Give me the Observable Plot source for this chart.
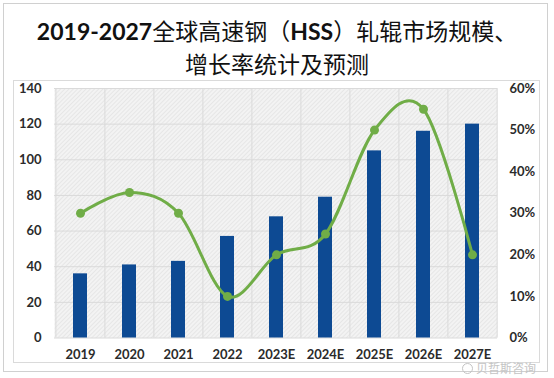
<!DOCTYPE html>
<html><head><meta charset="utf-8">
<script src="https://cdn.jsdelivr.net/npm/d3@7"></script>
<script src="https://cdn.jsdelivr.net/npm/@observablehq/plot@0.6"></script>
<style>
body{margin:0;background:#fff;}
#wrap{position:relative;width:554px;height:378px;overflow:hidden;font-family:Lato,"Noto Sans CJK SC",sans-serif;}
#outer{position:absolute;left:3px;top:3px;width:545px;height:369px;border:1px solid #d0d0d0;box-sizing:border-box;}
#inner{position:absolute;left:13px;top:80px;width:527px;height:283px;border:1px solid #dadada;box-sizing:border-box;}
.t{position:absolute;left:0;width:554px;text-align:center;font-size:23px;line-height:24px;color:#111;font-family:"Noto Sans CJK SC",sans-serif;white-space:nowrap;}
.t b{font-family:Lato,sans-serif;font-weight:bold;}
#chart{position:absolute;left:0;top:80px;}
#wm{position:absolute;left:462px;top:362px;font-size:12px;line-height:11px;color:#c4c4c4;font-family:"Noto Sans CJK SC",sans-serif;white-space:nowrap;}
#wm span{display:inline-block;width:9px;height:9px;border:1.5px solid #c4c4c4;border-radius:50%;vertical-align:-1px;margin-right:3px;}
</style></head>
<body>
<div id="wrap">
  <div id="outer"></div>
  <div id="inner"></div>
  <div class="t" style="top:18px;"><b>2019-2027</b>全球高速钢（<b>HSS</b>）轧辊市场规模、</div>
  <div class="t" style="top:51px;">增长率统计及预测</div>
  <div id="chart"></div>
  <div id="wm"><span></span>贝哲斯咨询</div>
</div>
<script>
const years = ["2019","2020","2021","2022","2023E","2024E","2025E","2026E","2027E"];
const marketSize = [36, 41, 43, 57, 68, 79, 105, 116, 120];
const growthRate = [30, 35, 30, 10, 20, 25, 50, 55, 20];
const leftTicks = [0, 20, 40, 60, 80, 100, 120, 140];
const rightTicks = [0, 10, 20, 30, 40, 50, 60];

const yMax = 140, pMax = 60;
const rows = years.map((y, i) => ({year: y, size: marketSize[i], rate: growthRate[i]}));

const W = 554, H = 286, mL = 54, mR = 57, mT = 8, mB = 28.5;
const step = (W - mL - mR) / years.length;
const green = "#70ad47", blue = "#0d4a93", grid = "#dadada";

const plot = Plot.plot({
  width: W, height: H,
  marginLeft: mL, marginRight: mR, marginTop: mT, marginBottom: mB,
  style: {fontFamily: "Lato, sans-serif", fontSize: "13px", fontWeight: "bold", color: "#2b2b2b", background: "transparent"},
  x: {type: "band", domain: years, paddingInner: 0.715, paddingOuter: 0.3575, align: 0.5},
  y: {domain: [0, yMax]},
  marks: [
    Plot.frame({fill: "url(#hatch)", stroke: "none"}),
    Plot.ruleY(leftTicks, {y: d => d, stroke: grid, strokeWidth: 1}),
    Plot.ruleX(years, {x: d => d, dx: -step / 2, stroke: grid, strokeWidth: 1}),
    Plot.ruleX([years[years.length - 1]], {x: d => d, dx: step / 2, stroke: grid, strokeWidth: 1}),
    Plot.barY(rows, {x: "year", y: "size", fill: blue}),
    Plot.line(rows, {x: "year", y: d => d.rate * yMax / pMax, stroke: green, strokeWidth: 3, curve: "cardinal"}),
    Plot.dot(rows, {x: "year", y: d => d.rate * yMax / pMax, r: 4.5, fill: green, stroke: "none"}),
    Plot.axisY({anchor: "left", ticks: leftTicks, tickSize: 0, tickPadding: 13, label: null}),
    Plot.axisY({anchor: "right", ticks: rightTicks.map(p => p * yMax / pMax), tickFormat: d => Math.round(d * pMax / yMax) + "%", tickSize: 0, tickPadding: 12, label: null}),
    Plot.axisX({anchor: "bottom", tickSize: 0, tickPadding: 12, label: null})
  ]
});
plot.insertAdjacentHTML("afterbegin",
  '<defs><pattern id="hatch" width="3" height="3" patternUnits="userSpaceOnUse" patternTransform="rotate(45)">' +
  '<rect width="3" height="3" fill="#f3f3f3"/><line x1="0" y1="0" x2="0" y2="3" stroke="#dedede" stroke-width="1.2"/></pattern></defs>');
document.getElementById("chart").appendChild(plot);
</script>
</body></html>
